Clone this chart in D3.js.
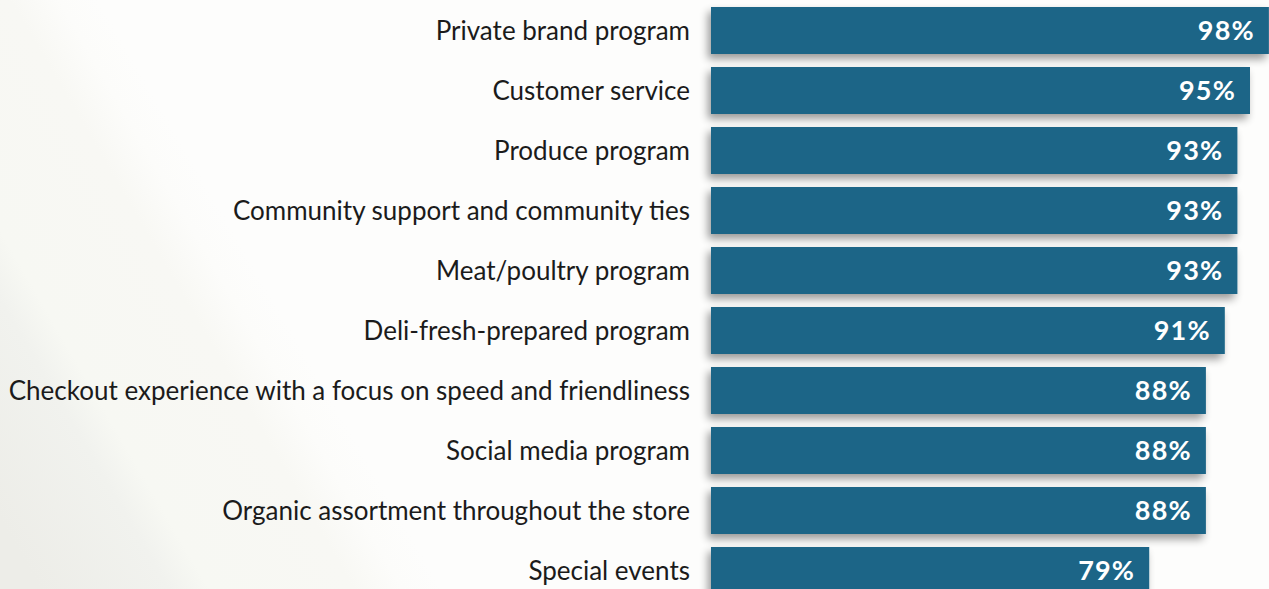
<!DOCTYPE html>
<html>
<head>
<meta charset="utf-8">
<script src="https://cdn.jsdelivr.net/npm/d3@7"></script>
<style>
  html, body { margin: 0; padding: 0; overflow: hidden; }
  svg { display: block; }
</style>
</head>
<body>
<svg id="chart" width="1269" height="589"></svg>
<script>
// Share of respondents rating each program as important
const categories = [
  "Private brand program",
  "Customer service",
  "Produce program",
  "Community support and community ties",
  "Meat/poultry program",
  "Deli-fresh-prepared program",
  "Checkout experience with a focus on speed and friendliness",
  "Social media program",
  "Organic assortment throughout the store",
  "Special events"
];
const values = [98, 95, 93, 93, 93, 91, 88, 88, 88, 79];
const valueLabels = ["98%", "95%", "93%", "93%", "93%", "91%", "88%", "88%", "88%", "79%"];

const W = 1269, H = 589;
const barLeft = 711;
const svg = d3.select("#chart");
const defs = svg.append("defs");

// soft diagonal backdrop
const bg = defs.append("linearGradient")
  .attr("id", "bg").attr("gradientUnits", "userSpaceOnUse")
  .attr("x1", 0).attr("y1", 520).attr("x2", 300).attr("y2", 345);
[[0, "#ededE8"], [0.32, "#f1f2ee"], [0.42, "#f7f8f3"], [0.78, "#f8f8f4"], [0.9, "#fcfcfa"], [1, "#fdfdfc"]]
  .forEach(([o, c]) => bg.append("stop").attr("offset", o).attr("stop-color", c));
svg.append("rect").attr("width", W).attr("height", H).attr("fill", "url(#bg)");

// drop shadow under bars
const f = defs.append("filter").attr("id", "shadow")
  .attr("x", "-5%").attr("y", "-30%").attr("width", "110%").attr("height", "180%");
f.append("feGaussianBlur").attr("in", "SourceAlpha").attr("stdDeviation", 4).attr("result", "b");
f.append("feOffset").attr("in", "b").attr("dx", -3).attr("dy", 5).attr("result", "o");
f.append("feComponentTransfer").attr("in", "o").attr("result", "s")
  .append("feFuncA").attr("type", "linear").attr("slope", 0.4);
const m = f.append("feMerge");
m.append("feMergeNode").attr("in", "s");
m.append("feMergeNode").attr("in", "SourceGraphic");

const x = d3.scaleLinear().domain([0, 100]).range([651.5, 1281.5]);
const y = d3.scaleBand().domain(categories).range([1, 600])
  .paddingInner(13 / 60).paddingOuter(0.1);

const rows = svg.append("g").selectAll("g")
  .data(categories.map((c, i) => ({ c, v: values[i], t: valueLabels[i] })))
  .join("g");

rows.append("rect")
  .attr("x", barLeft)
  .attr("y", d => y(d.c))
  .attr("width", d => x(d.v) - barLeft)
  .attr("height", y.bandwidth())
  .attr("fill", "#1d6587")
  .attr("filter", "url(#shadow)");

rows.append("text")
  .attr("x", 690)
  .attr("y", d => y(d.c) + y.bandwidth() / 2 + 9)
  .attr("text-anchor", "end")
  .attr("font-family", "Lato, sans-serif")
  .attr("font-size", 26)
  .attr("fill", "#1b1b1b")
  .text(d => d.c);

rows.append("text")
  .attr("x", d => x(d.v) - 14)
  .attr("y", d => y(d.c) + y.bandwidth() / 2 + 9.5)
  .attr("text-anchor", "end")
  .attr("font-family", "Lato, sans-serif")
  .attr("font-weight", 700)
  .attr("font-size", 27)
  .attr("letter-spacing", 1.2)
  .attr("fill", "#ffffff")
  .text(d => d.t);
</script>
</body>
</html>
